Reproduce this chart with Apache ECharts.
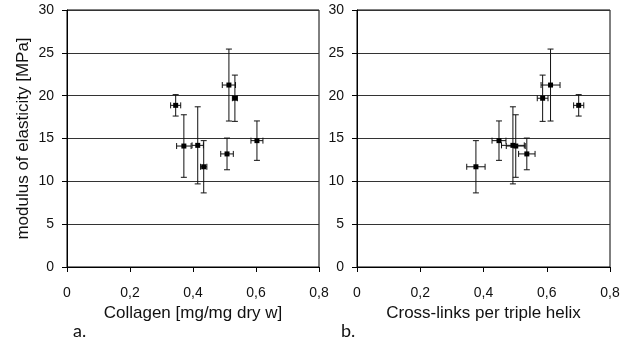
<!DOCTYPE html>
<html>
<head>
<meta charset="utf-8">
<script src="https://cdn.jsdelivr.net/npm/echarts@6/dist/echarts.min.js"></script>
<style>
html,body{margin:0;padding:0;background:#fff;}
#main{width:631px;height:347px;}
</style>
</head>
<body>
<div id="main"></div>
<script>
// Modulus of elasticity [MPa] and its error (±)
var modulus    = [18.87, 14.12, 14.2, 11.7, 13.2, 14.75, 21.24, 19.7];
var modulusErr = [1.25, 3.65, 4.5, 3.05, 1.85, 2.3, 4.2, 2.7];
// Collagen [mg/mg dry w] and its error (±)
var collagen    = [0.345, 0.371, 0.415, 0.434, 0.508, 0.603, 0.514, 0.533];
var collagenErr = [0.016, 0.023, 0.018, 0.010, 0.020, 0.019, 0.021, 0.008];
// Cross-links per triple helix and its error (±)
var crosslinks    = [0.701, 0.502, 0.493, 0.376, 0.537, 0.449, 0.612, 0.587];
var crosslinksErr = [0.016, 0.030, 0.036, 0.029, 0.026, 0.022, 0.030, 0.017];
// Axis ticks
var xTicks = [0, 0.2, 0.4, 0.6, 0.8];
var yTicks = [0, 5, 10, 15, 20, 25, 30];

function build(xs, xe) {
  return xs.map(function (x, i) { return [x, modulus[i], xe[i], modulusErr[i]]; });
}
var dataA = build(collagen, collagenErr);
var dataB = build(crosslinks, crosslinksErr);

var FONT = '"Liberation Sans", Arial, sans-serif';
var chart = echarts.init(document.getElementById('main'), null, {renderer: 'canvas'});

function errRender(params, api) {
  var x = api.value(0), y = api.value(1), xe = api.value(2), ye = api.value(3);
  var c = api.coord([x, y]);
  var l = api.coord([x - xe, y]), r = api.coord([x + xe, y]);
  var t = api.coord([x, y + ye]), b = api.coord([x, y - ye]);
  var cap = 3;
  var st = {stroke: '#111', lineWidth: 1};
  var children = [
    {type: 'line', shape: {x1: c[0], y1: t[1], x2: c[0], y2: b[1]}, style: st},
    {type: 'line', shape: {x1: c[0] - cap, y1: t[1], x2: c[0] + cap, y2: t[1]}, style: st},
    {type: 'line', shape: {x1: c[0] - cap, y1: b[1], x2: c[0] + cap, y2: b[1]}, style: st},
    {type: 'line', shape: {x1: l[0], y1: c[1], x2: r[0], y2: c[1]}, style: st},
    {type: 'line', shape: {x1: l[0], y1: c[1] - cap, x2: l[0], y2: c[1] + cap}, style: st},
    {type: 'line', shape: {x1: r[0], y1: c[1] - cap, x2: r[0], y2: c[1] + cap}, style: st},
    {type: 'rect', shape: {x: c[0] - 2.5, y: c[1] - 2.5, width: 5, height: 5}, style: {fill: '#000'}}
  ];
  return {type: 'group', children: children};
}

function xAxisCfg(idx, name) {
  return {
    type: 'value', gridIndex: idx, min: xTicks[0], max: xTicks[xTicks.length - 1], interval: 0.2,
    name: name, nameLocation: 'middle', nameGap: 38,
    nameTextStyle: {fontFamily: FONT, fontSize: 17, color: '#111'},
    axisLine: {lineStyle: {color: '#000', width: 1}},
    axisTick: {show: true, inside: false, length: 5, lineStyle: {color: '#000'}},
    axisLabel: {margin: 19, fontFamily: FONT, fontSize: 14, color: '#111',
      formatter: function (v) { return String(+v.toFixed(1)).replace('.', ','); }},
    splitLine: {show: false}
  };
}
function yAxisCfg(idx, name) {
  return {
    type: 'value', gridIndex: idx, min: yTicks[0], max: yTicks[yTicks.length - 1], interval: 5,
    name: name, nameLocation: 'middle', nameGap: 35,
    nameTextStyle: {fontFamily: FONT, fontSize: 17, color: '#111'},
    axisLine: {show: true, lineStyle: {color: '#000', width: 1}},
    axisTick: {show: true, inside: false, length: 5, lineStyle: {color: '#000'}},
    axisLabel: {margin: 13, fontFamily: FONT, fontSize: 14, color: '#111'},
    splitLine: {show: true, lineStyle: {color: '#333', width: 1}}
  };
}

chart.setOption({
  animation: false,
  backgroundColor: '#fff',
  grid: [
    {left: 67, top: 10, width: 252, height: 257, show: true, borderColor: '#000', borderWidth: 1, backgroundColor: 'transparent'},
    {left: 357, top: 10, width: 253, height: 257, show: true, borderColor: '#000', borderWidth: 1, backgroundColor: 'transparent'}
  ],
  xAxis: [xAxisCfg(0, 'Collagen [mg/mg dry w]'), xAxisCfg(1, 'Cross-links per triple helix')],
  yAxis: [yAxisCfg(0, 'modulus of elasticity [MPa]'), yAxisCfg(1, '')],
  series: [
    {type: 'custom', xAxisIndex: 0, yAxisIndex: 0, renderItem: errRender, data: dataA, encode: {x: 0, y: 1}, clip: false},
    {type: 'custom', xAxisIndex: 1, yAxisIndex: 1, renderItem: errRender, data: dataB, encode: {x: 0, y: 1}, clip: false}
  ],
  graphic: [
    {type: 'text', left: 73, top: 322, style: {text: 'a.', font: '18px Lato, "Open Sans", sans-serif', fill: '#111'}},
    {type: 'text', left: 341, top: 322, style: {text: 'b.', font: '18px Lato, "Open Sans", sans-serif', fill: '#111'}}
  ]
});
</script>
</body>
</html>
